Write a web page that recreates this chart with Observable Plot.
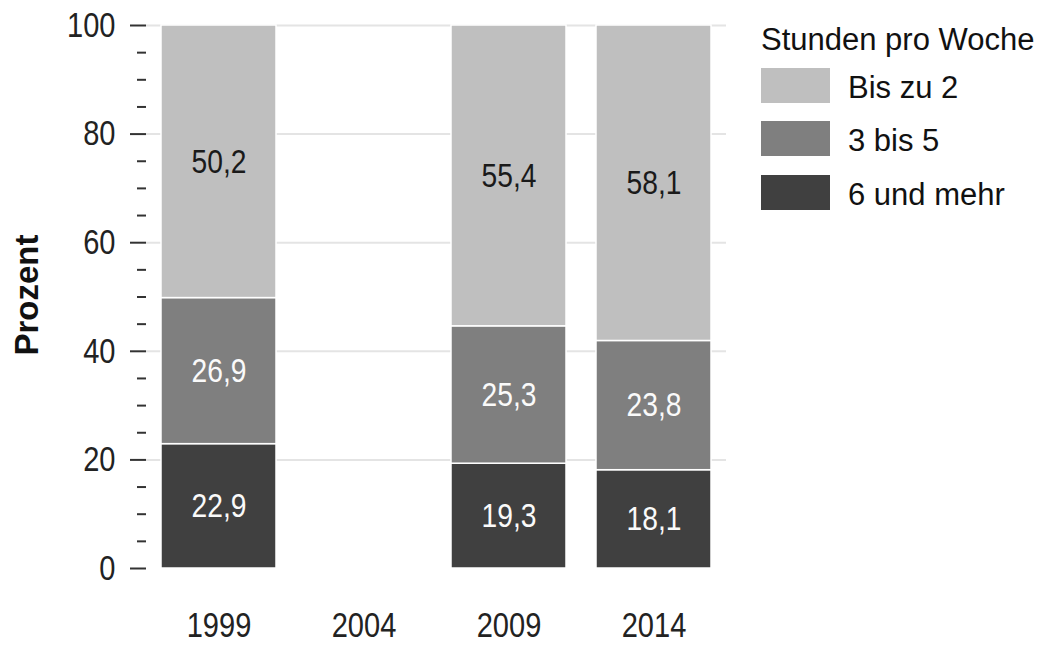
<!DOCTYPE html>
<html><head><meta charset="utf-8">
<script src="https://cdn.jsdelivr.net/npm/d3@7"></script>
<script src="https://cdn.jsdelivr.net/npm/@observablehq/plot@0.6"></script>
<style>
body{margin:0;background:#fff;}
#wrap{position:relative;width:1045px;height:645px;font-family:"Liberation Sans",Arial,sans-serif;}
#chart{position:absolute;left:0;top:0;}
#legend{position:absolute;left:0;top:0;}
</style></head><body>
<div id="wrap"><div id="chart"></div><svg id="legend" width="1045" height="645"></svg></div>
<script>
const years = ["1999", "2004", "2009", "2014"];
const dataYears = ["1999", "2009", "2014"];
const categories = ["6 und mehr", "3 bis 5", "Bis zu 2"];
const share6plus = [22.9, 19.3, 18.1];
const share3to5 = [26.9, 25.3, 23.8];
const shareUpTo2 = [50.2, 55.4, 58.1];
const colors = ["#404040", "#7f7f7f", "#bfbfbf"];
const yMajorTicks = [0, 20, 40, 60, 80, 100];
const yMinorTicks = [5, 10, 15, 25, 30, 35, 45, 50, 55, 65, 70, 75, 85, 90, 95];
const yLabel = "Prozent";
const legendTitle = "Stunden pro Woche";

const seriesValues = [share6plus, share3to5, shareUpTo2];
const table = [];
categories.forEach((cat, ci) => {
  dataYears.forEach((yr, yi) => table.push({year: yr, cat, value: seriesValues[ci][yi]}));
});
const fmt = d => d.value.toFixed(1).replace(".", ",");
const labelFont = "'Liberation Sans', Arial, sans-serif";

const plot = Plot.plot({
  width: 740,
  height: 645,
  marginLeft: 146,
  marginRight: 14,
  marginTop: 25,
  marginBottom: 77,
  style: {fontFamily: labelFont, fontSize: "32px", color: "#222", background: "transparent"},
  x: {domain: years, paddingInner: 0.21, paddingOuter: 0.1},
  y: {domain: [0, 100]},
  color: {domain: categories, range: colors},
  marks: [
    Plot.ruleY(yMajorTicks.filter(v => v > 0), {stroke: "#e4e4e4", strokeWidth: 2}),
    Plot.barY(table, Plot.stackY({x: "year", y: "value", fill: "cat", z: "cat", stroke: "#ffffff", strokeWidth: 1.5})),
    Plot.text(table, Plot.stackY({x: "year", y: "value", z: "cat", text: d => d.cat !== "Bis zu 2" ? fmt(d) : null, fill: "#fafafa", fontSize: 34, className: "squeeze"})),
    Plot.text(table, Plot.stackY({x: "year", y: "value", z: "cat", text: d => d.cat === "Bis zu 2" ? fmt(d) : null, fill: "#1a1a1a", fontSize: 34, className: "squeeze"})),
    Plot.axisY(yMajorTicks, {tickSize: 16, tickPadding: 15, stroke: "#333", strokeWidth: 2, fontSize: 35, label: null, className: "squeeze"}),
    Plot.axisY(yMinorTicks, {tickSize: 9, text: null, stroke: "#333", strokeWidth: 2, label: null}),
    Plot.axisX({tickSize: 0, tickPadding: 44, fontSize: 35, label: null, className: "squeeze"}),
    Plot.text([yLabel], {frameAnchor: "left", textAnchor: "middle", lineAnchor: "middle", dx: -119, dy: -2, rotate: -90, text: d => d, fontWeight: "bold", fontSize: 33, fill: "#111"})
  ]
});
document.getElementById("chart").appendChild(plot);

// narrow the numeric labels horizontally (the reference uses a condensed face)
d3.select(plot).selectAll(".squeeze text").each(function() {
  const t = this.getAttribute("transform") || "";
  const x = +this.getAttribute("x") || 0;
  this.setAttribute("transform", `${t} translate(${x},0) scale(0.83,1) translate(${-x},0)`);
});

// legend
const lg = d3.select("#legend").style("font-family", labelFont);
lg.append("text").attr("x", 761).attr("y", 50).attr("font-size", 31).attr("fill", "#111").text(legendTitle);
const legendOrder = [2, 1, 0];
const swatchTops = [68, 121, 175];
legendOrder.forEach((ci, i) => {
  lg.append("rect").attr("x", 761).attr("y", swatchTops[i]).attr("width", 69).attr("height", 35).attr("fill", colors[ci]);
  lg.append("text").attr("x", 848).attr("y", swatchTops[i] + 30).attr("font-size", 31).attr("fill", "#111").text(categories[ci]);
});
</script>
</body></html>
